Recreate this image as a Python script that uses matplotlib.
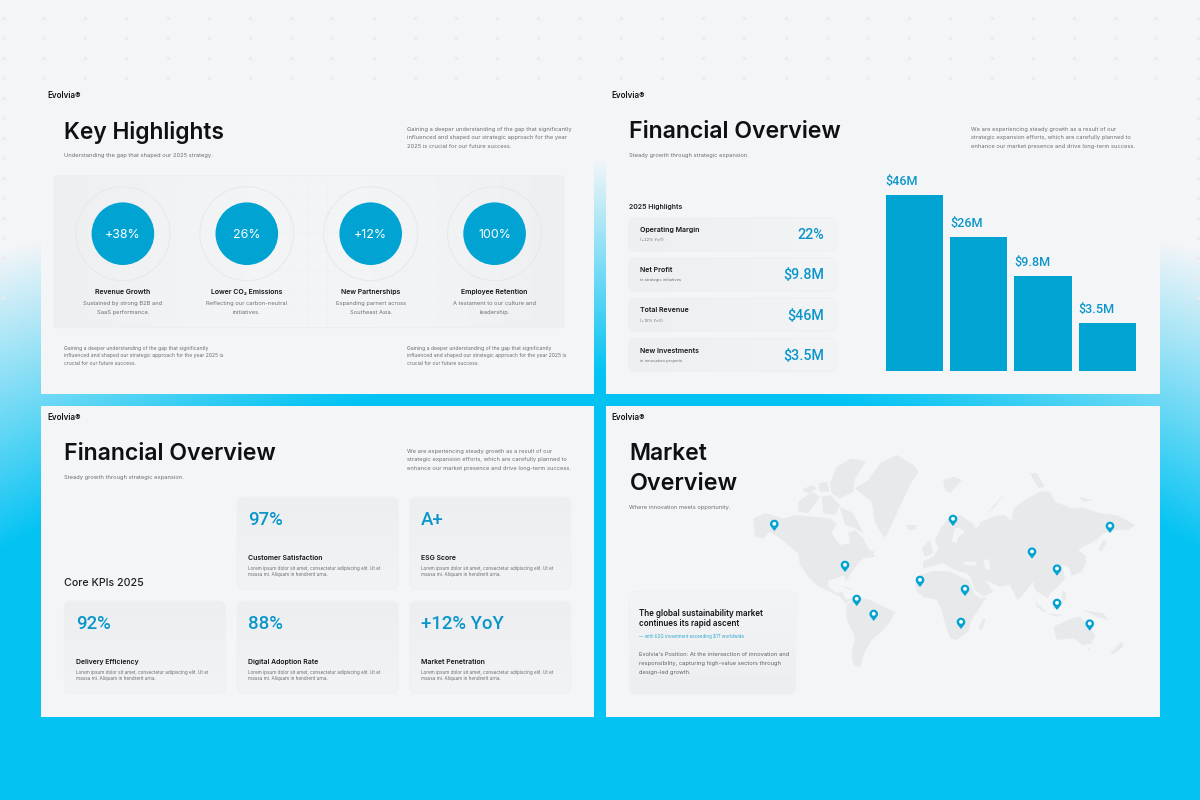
import numpy as np
import matplotlib
matplotlib.use("Agg")
import matplotlib.pyplot as plt
from matplotlib.patches import FancyBboxPatch, Circle, Polygon, Rectangle
from matplotlib.colors import to_rgb

plt.rcParams['font.family'] = ['Inter', 'DejaVu Sans']

# ---- data ----
highlight_values = ['+38%', '26%', '+12%', '100%']
highlight_titles = ['Revenue Growth', 'Lower CO₂ Emissions', 'New Partnerships', 'Employee Retention']
highlight_desc = [['Sustained by strong B2B and', 'SaaS performance.'],
                  ['Reflecting our carbon-neutral', 'initiatives.'],
                  ['Expanding parnert across', 'Southeast Asia.'],
                  ['A testament to our culture and', 'leadership.']]
fin_titles = ['Operating Margin', 'Net Profit', 'Total Revenue', 'New Investments']
fin_subs = ['(+22% YoY)', 'in strategic initiatives', '(+15% YoY)', 'in innovation projects']
fin_values = ['22%', '$9.8M', '$46M', '$3.5M']
bar_labels = ['$46M', '$26M', '$9.8M', '$3.5M']
bar_heights = [100, 76.4, 54, 27.3]   # drawn height, relative to the tallest bar
kpi_values = ['97%', 'A+', '92%', '88%', '+12% YoY']
kpi_titles = ['Customer Satisfaction', 'ESG Score', 'Delivery Efficiency', 'Digital Adoption Rate', 'Market Penetration']
pin_x = [774.3, 845, 920, 856.7, 873.7, 953, 1110, 1032, 1057, 965, 1057, 961, 1089.7]
pin_y = [524, 565, 580, 599, 614, 519, 526, 551.7, 568.7, 589, 603, 622, 623.7]

west_shapes = [
    [(40,205),(75,190),(130,205),(170,195),(215,200),(270,205),(290,220),(275,250),(300,285),(330,280),(325,250),
     (345,240),(370,265),(385,295),(405,320),(370,325),(350,345),(330,375),(318,395),(312,375),(290,385),(265,390),
     (265,410),(290,430),(305,425),(320,450),(340,442),(318,462),(300,440),(270,425),(235,410),(205,380),(180,345),
     (175,310),(150,290),(120,265),(90,245),(50,285),(70,265),(45,260)],
    [(318,470),(345,440),(390,450),(430,470),(465,487),(450,515),(425,545),(395,570),(375,605),(360,650),(340,645),
     (335,610),(345,560),(320,510)],
    [(345,115),(385,90),(420,40),(470,15),(520,45),(535,65),(510,105),(480,170),(440,255),(430,262),(405,215),(395,155),(350,120)],
    [(270,100),(290,50),(335,25),(378,35),(345,85),(340,125),(300,145),(275,130)],
    [(175,155),(215,125),(240,140),(205,190),(175,185)],
    [(245,140),(270,135),(300,165),(285,195),(250,190)],
    [(300,170),(340,190),(370,250),(345,235),(315,225)],
    [(185,120),(215,105),(232,115),(205,130)],
    [(235,100),(262,95),(268,125),(240,125)],
    [(500,225),(530,225),(525,240),(505,240)],
    [(545,295),(570,270),(580,310),(555,320)],
    [(300,405),(345,420),(330,420)],
    [(385,300),(405,305),(395,315)],
]
# map outlines, east part (origin 940,450, 3x)
east_shapes = [
    [(-50,355),(-52,335),(-20,320),(-5,295),(-15,270),(5,230),(25,205),(60,195),(100,222),(108,238),(125,215),
     (160,200),(195,195),(215,215),(220,175),(255,150),(300,125),(330,125),(345,155),(395,175),(430,172),(480,190),
     (530,195),(585,225),(565,240),(530,240),(490,250),(470,270),(430,290),(415,300),(440,320),(420,360),(395,375),
     (385,350),(365,345),(375,385),(350,415),(330,430),(325,445),(300,430),(285,420),(280,395),(240,445),(232,450),
     (210,405),(180,410),(135,390),(160,425),(130,440),(105,420),(90,380),(80,370),(45,360),(10,340),(-30,350)],
    [(-75,400),(-60,375),(-20,362),(30,365),(60,380),(85,390),(105,435),(125,445),(140,440),(115,480),(95,510),(85,545),
     (50,570),(30,565),(15,520),(5,480),(-10,450),(-50,440),(-70,425)],
    [(130,505),(137,510),(125,540),(115,535)],
    [(340,530),(395,505),(420,500),(440,520),(465,555),(455,580),(430,585),(400,565),(350,570)],
    [(510,610),(545,575),(550,590),(520,612)],
    [(440,595),(450,595),(447,600)],
    [(285,455),(320,485),(310,485),(290,470)],
    [(320,490),(370,495),(350,500)],
    [(345,445),(370,455),(360,475),(340,475)],
    [(365,420),(380,430),(375,455),(365,445)],
    [(430,480),(490,490),(505,510),(470,500)],
    [(432,325),(440,335),(425,365),(395,378),(392,368),(420,352)],
    [(490,270),(500,275),(485,305),(475,300)],
    [(140,190),(195,130),(165,170)],
    [(10,90),(40,80),(65,90),(30,130),(15,120)],
    [(270,70),(290,70),(315,110),(295,115)],
    [(415,140),(460,150),(430,155)],
]
east_holes = [
    [(130,330),(148,328),(150,360),(135,355)],
    [(70,335),(110,335),(108,347),(75,345)],
    [(35,275),(45,235),(60,235),(75,245),(55,262),(50,280)],
]

# ---- colours ----
INK = '#111417'; GREY = '#6a6d72'; BLUE = '#01a3d3'; VAL = '#0a96cb'
PANEL = '#f4f5f7'; LAND = '#e8e9eb'; TOP = '#f3f5f8'; BOTTOM = '#04c3f3'

fig = plt.figure(figsize=(12, 8), dpi=100)
ax = fig.add_axes([0, 0, 1, 1])
ax.set_axis_off()

# ---- background ----
yy, xx = np.mgrid[0:800:2, 0:1200:2]
u = np.abs(xx - 600) / 600
start = 160 + 90 * u ** 2
end = 370 + 180 * u ** 2
t = np.clip((yy - start) / (end - start), 0, 1)[..., None]
bg = np.array(to_rgb(TOP)) * (1 - t) + np.array(to_rgb(BOTTOM)) * t
ax.imshow(bg, extent=(0, 1200, 800, 0), aspect='auto', zorder=0)

gx, gy = np.meshgrid(np.arange(2.7, 1200, 41.2), np.arange(18, 300, 20))
ax.scatter(gx.ravel(), gy.ravel(), s=6, color='#e9ebee', linewidths=0, zorder=0.5)

ax.set_xlim(0, 1200)
ax.set_ylim(800, 0)


def panel(x0, y0, x1, y1):
    ax.add_patch(Rectangle((x0, y0), x1 - x0, y1 - y0, fc=PANEL, ec='none', zorder=1))


def card(x0, y0, x1, y1, r, colors, horizontal=False, edge='#eceef0'):
    src = np.array([to_rgb(c) for c in colors])
    pos = np.linspace(0, len(colors) - 1, 128)
    arr = np.column_stack([np.interp(pos, np.arange(len(colors)), src[:, k]) for k in range(3)])
    arr = arr[None, :, :] if horizontal else arr[:, None, :]
    im = ax.imshow(arr, extent=(x0, x1, y1, y0), aspect='auto', interpolation='nearest', zorder=2)
    p = FancyBboxPatch((x0 + r, y0 + r), x1 - x0 - 2 * r, y1 - y0 - 2 * r, boxstyle=f'round,pad={r},rounding_size={r}',
                       fc='none', ec=edge, lw=0.8, zorder=2.1)
    ax.add_patch(p)
    im.set_clip_path(p)
    ax.set_xlim(0, 1200)
    ax.set_ylim(800, 0)


def txt(x, y, s, px, color=INK, weight='normal', ha='left', w=None, family=None):
    t = ax.text(x, y, s, fontsize=px * 0.72, color=color, fontweight=weight, ha=ha, va='center', zorder=5)
    if family:
        t.set_family(family)
    if w is not None:
        m = t.get_window_extent(fig.canvas.get_renderer()).width
        t.set_fontsize(px * 0.72 * w / m)
    return t


def para(x, ys, lines, px=5.4, color=GREY, ha='left'):
    for y, line in zip(ys, lines):
        txt(x, y, line, px, color, ha=ha)


def head(xb, xt, dy, title, tw, sub, xp, lines):
    txt(xb - 0.8, 95.5 + dy, 'Evolvia®', 8.2, INK, 'semibold', w=33)
    txt(xt, 132.5 + dy, title, 25, '#0e1012', 'semibold', w=tw)
    txt(xt, 156 + dy, sub, 5.75, GREY)
    if lines:
        para(xp, [129.3 + dy, 138 + dy, 146.7 + dy], lines, 5.7)


for box in [(41, 84, 594, 394), (606, 84, 1160, 394), (41, 406, 594, 717), (606, 406, 1160, 717)]:
    panel(*box)

# ---- slide 1 ----
p1 = ['Gaining a deeper understanding of the gap that significantly',
      'influenced and shaped our strategic approach for the year',
      '2025 is crucial for our future success.']
head(48, 64, 0, 'Key Highlights', 160, 'Understanding the gap that shaped our 2025 strategy.', 407, p1)
card(54, 175.7, 564, 327.7, 3, ['#eeeff1', '#f2f3f5', '#f4f5f7', '#f2f3f5', '#eeeff1'], horizontal=True)
for gyy in [195, 213, 232, 252, 270, 290, 308]:
    ax.plot([255, 500], [gyy, gyy], color='#f0f1f3', lw=0.5, zorder=2.2)
for gxx in [290, 308, 327]:
    ax.plot([gxx, gxx], [178, 326], color='#f0f1f3', lw=0.5, zorder=2.2)
for cx, v, ti, d in zip([122.9, 246.8, 370.7, 494.6], highlight_values, highlight_titles, highlight_desc):
    ax.add_patch(Circle((cx, 233.7), 47, fc='none', ec='#e6e8ea', lw=0.7, zorder=3))
    ax.add_patch(Circle((cx, 233.7), 31.3, fc=BLUE, ec='none', zorder=3))
    txt(cx, 234.5, v, 12.4, 'white', ha='center')
    txt(cx, 291.7, ti, 6.9, INK, 'semibold', ha='center')
    para(cx, [303.7, 312.3], d, 5.7, ha='center')
b1 = ['Gaining a deeper understanding of the gap that significantly',
      'influenced and shaped our strategic approach for the year 2025 is',
      'crucial for our future success.']
para(64, [348.3, 356, 363.7], b1, 5.1)
para(407, [348.3, 356, 363.7], b1, 5.1)

# ---- slide 2 ----
p2 = ['We are experiencing steady growth as a result of our',
      'strategic expansion efforts, which are carefully planned to',
      'enhance our market presence and drive long-term success.']
head(612.5, 629, 0, 'Financial Overview', 212, 'Steady growth through strategic expansion.', 971, p2)
txt(629, 207, '2025 Highlights', 6.9, '#1c1f22', 'semibold')
for i, (ti, su, v) in enumerate(zip(fin_titles, fin_subs, fin_values)):
    y0 = 217.7 + 40.1 * i
    card(628.6, y0, 835.7, y0 + 33.5, 6, ['#eeeff1', '#f3f4f6'], horizontal=True, edge='#eff0f2')
    txt(640.4, y0 + 12.6, ti, 7.0, INK, 'semibold')
    txt(640.4, y0 + 22.6, su, 4.1, GREY)
    txt(824, y0 + 17.6, v, 14.2, VAL, 'medium', ha='right', family='Roboto')

bar_ax = fig.add_axes([885.7 / 1200, 1 - 371 / 800, (1136 - 885.7) / 1200, (371 - 195) / 800])
bar_ax.set_axis_off()
bar_w = 0.893
bar_ax.bar(range(4), bar_heights, width=bar_w, color=BLUE, linewidth=0)
bar_ax.set_xlim(-bar_w / 2, 3 + bar_w / 2)
bar_ax.set_ylim(0, 100)
for i, (h, lab) in enumerate(zip(bar_heights, bar_labels)):
    bar_ax.annotate(lab, xy=(i - bar_w / 2, h), xytext=(0, 13.2 * 0.72), textcoords='offset points',
                    fontsize=12.6 * 0.72, color=VAL, fontweight='medium', ha='left', va='center', family='Roboto')

# ---- slide 3 ----
head(48, 64, 322, 'Financial Overview', 212, 'Steady growth through strategic expansion.', 407, p2)
txt(64, 583.5, 'Core KPIs 2025', 12.6, '#1c1f22', 'medium', w=80)
lorem = ['Lorem ipsum dolor sit amet, consectetur adipiscing elit. Ut et',
         'massa mi. Aliquam in hendrerit urna.']
card_pos = [(237, 497), (409.6, 497), (64.3, 601), (237, 601), (409.6, 601)]
for (cx0, cy0), v, ti in zip(card_pos, kpi_values, kpi_titles):
    card(cx0, cy0, cx0 + 161.2, cy0 + 92.3, 7, ['#edeef0', '#f2f3f5'], edge='#eff0f2')
    txt(cx0 + 11.4, cy0 + 23.2, v, 18.6, VAL, 'medium', family='Roboto')
    txt(cx0 + 11.4, cy0 + 61.3, ti, 6.9, INK, 'semibold')
    para(cx0 + 11.4, [cy0 + 71.1, cy0 + 77.9], lorem, 4.6)

# ---- slide 4 ----
txt(611.7, 417.5, 'Evolvia®', 8.2, INK, 'semibold', w=33)
txt(629.5, 454.5, 'Market', 25, '#0e1012', 'semibold', w=78)
txt(629.5, 484.2, 'Overview', 25, '#0e1012', 'semibold', w=108)
txt(629, 507.7, 'Where innovation meets opportunity.', 5.75, GREY)
for shape in west_shapes:
    pts = [(740 + a / 3, 450 + b / 3) for a, b in shape]
    ax.add_patch(Polygon(pts, closed=True, fc=LAND, ec='none', zorder=2))
for shape in east_shapes:
    pts = [(940 + a / 3, 450 + b / 3) for a, b in shape]
    ax.add_patch(Polygon(pts, closed=True, fc=LAND, ec='none', zorder=2))
for shape in east_holes:
    pts = [(940 + a / 3, 450 + b / 3) for a, b in shape]
    ax.add_patch(Polygon(pts, closed=True, fc=PANEL, ec='none', zorder=2.1))

ang = np.radians(np.linspace(-220, 40, 40))
for px_, py_ in zip(pin_x, pin_y):
    head_pts = np.column_stack([px_ + 4.3 * np.cos(ang), py_ + 4.3 * np.sin(ang)])
    pts = np.vstack([head_pts, [px_, py_ + 7.0]])
    ax.add_patch(Polygon(pts, closed=True, fc=BLUE, ec='none', zorder=4))
    ax.add_patch(Circle((px_, py_ - 0.2), 1.9, fc='white', ec='none', zorder=4.1))

card(629.3, 591, 795.7, 694, 7, ['#f3f4f6', '#edeef0'], edge='#eff0f2')
txt(638.6, 614, 'The global sustainability market', 8.2, INK, 'semibold', w=123.5)
txt(638.6, 624, 'continues its rapid ascent', 8.2, INK, 'semibold', w=100)
txt(638.6, 636, '— with ESG investment exceeding $1T worldwide', 4.4, '#2aa6cf', w=105)
para(638.6, [655, 663.7, 672.3],
     ["Evolvia's Position: At the intersection of innovation and",
      'responsibility, capturing high-value sectors through',
      'design-led growth.'], 5.7, '#5b5e63')

fig.savefig('out.png', dpi=100)
